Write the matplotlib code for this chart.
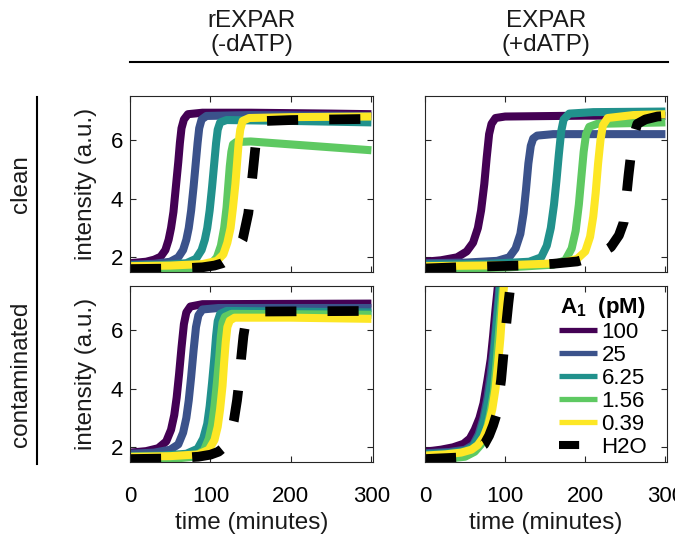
import matplotlib
matplotlib.use("Agg")
import matplotlib.pyplot as plt
from matplotlib.lines import Line2D

plt.rcParams['font.family'] = ['Liberation Sans', 'DejaVu Sans']
plt.rcParams['mathtext.fontset'] = 'custom'
plt.rcParams['mathtext.rm'] = 'Liberation Sans'
plt.rcParams['mathtext.bf'] = 'Liberation Sans:bold'

# legend labels / colours (viridis, 5 levels)
conc_labels = ['100', '25', '6.25', '1.56', '0.39', 'H2O']
conc_colors = ['#440154', '#3b528b', '#21918c', '#5ec962', '#fde725', 'black']

col_titles = ['rEXPAR\n(-dATP)', 'EXPAR\n(+dATP)']
row_titles = ['clean', 'contaminated']
xticks = [0, 100, 200, 300]
yticks = [2, 4, 6]

# ---- rEXPAR (-dATP), clean : (time, intensity)
rc_100 = [(0,1.8),(20,1.85),(30,1.92),(38,2.02),(44,2.25),(48,2.6),(51,3.0),(54,3.55),(57,4.4),(60,5.25),(62,5.9),(64,6.4),(67,6.7),(72,6.88),(90,6.93),(150,6.93),(250,6.9),(300,6.88)]
rc_25 = [(0,1.75),(30,1.78),(50,1.85),(60,2.0),(66,2.25),(70,2.6),(73,3.0),(76,3.6),(79,4.4),(82,5.3),(84,5.9),(86,6.4),(89,6.7),(95,6.82),(150,6.85),(300,6.82)]
rc_625 = [(0,1.72),(40,1.74),(70,1.8),(82,1.95),(89,2.25),(93,2.6),(96,3.0),(99,3.6),(102,4.4),(105,5.3),(107,5.9),(109,6.35),(112,6.6),(120,6.68),(200,6.65),(300,6.6)]
rc_156 = [(0,1.55),(50,1.57),(85,1.62),(100,1.75),(108,2.0),(113,2.4),(117,3.0),(120,3.7),(122,4.4),(124,5.1),(126,5.6),(128,5.85),(132,5.93),(150,5.95),(200,5.85),(250,5.75),(300,5.65)]
rc_039 = [(0,1.7),(50,1.72),(90,1.77),(108,1.88),(116,2.1),(121,2.5),(125,3.0),(128,3.7),(131,4.5),(133,5.2),(135,5.9),(137,6.35),(140,6.65),(148,6.75),(200,6.78),(300,6.8)]
rc_h2o = [(0,1.6),(60,1.62),(90,1.66),(105,1.72),(115,1.8),(125,1.98),(133,2.25),(140,2.6),(147,3.5),(150,4.2),(153,5.0),(156,5.8),(159,6.3),(163,6.55),(170,6.65),(200,6.68),(300,6.72)]

# ---- EXPAR (+dATP), clean
ec_100 = [(0,1.85),(20,1.9),(40,2.0),(52,2.2),(60,2.5),(66,3.0),(70,3.6),(74,4.5),(77,5.4),(80,6.2),(83,6.55),(88,6.75),(100,6.8),(200,6.83),(300,6.82)]
ec_25 = [(0,1.8),(50,1.82),(90,1.88),(105,2.0),(113,2.3),(119,2.8),(123,3.5),(126,4.3),(129,5.2),(132,5.8),(135,6.05),(140,6.15),(160,6.2),(300,6.2)]
ec_625 = [(0,1.75),(80,1.78),(130,1.85),(145,2.0),(152,2.4),(157,3.0),(161,3.8),(164,4.6),(167,5.5),(170,6.3),(173,6.7),(180,6.9),(210,6.95),(300,6.97)]
ec_156 = [(0,1.6),(100,1.65),(160,1.75),(175,1.9),(183,2.3),(188,2.9),(192,3.8),(195,4.7),(198,5.6),(201,6.2),(205,6.45),(215,6.55),(300,6.6)]
ec_039 = [(0,1.7),(100,1.73),(170,1.8),(190,1.95),(200,2.2),(206,2.7),(210,3.4),(213,4.2),(216,5.2),(219,6.0),(222,6.5),(228,6.75),(260,6.85),(300,6.88)]
ec_h2o = [(0,1.62),(60,1.68),(120,1.72),(160,1.78),(190,1.86),(205,1.98),(220,2.15),(232,2.35),(242,2.75),(248,3.2),(251,4.0),(254,4.8),(257,5.5),(260,6.1),(265,6.55),(275,6.7),(290,6.8),(300,6.82)]

# ---- rEXPAR (-dATP), contaminated
rx_100 = [(0,1.82),(20,1.87),(35,1.97),(45,2.2),(51,2.6),(55,3.1),(58,3.7),(61,4.5),(64,5.4),(67,6.2),(70,6.6),(75,6.8),(90,6.88),(300,6.9)]
rx_25 = [(0,1.78),(30,1.82),(50,1.92),(60,2.1),(66,2.5),(70,3.0),(73,3.6),(76,4.4),(79,5.3),(82,6.1),(85,6.5),(90,6.7),(110,6.75),(300,6.75)]
rx_625 = [(0,1.7),(40,1.72),(70,1.78),(84,1.95),(91,2.3),(96,2.8),(99,3.4),(102,4.2),(105,5.1),(107,5.8),(109,6.3),(112,6.55),(120,6.65),(300,6.6)]
rx_156 = [(0,1.58),(50,1.6),(80,1.68),(92,1.9),(98,2.3),(102,2.8),(105,3.4),(108,4.2),(111,5.1),(113,5.8),(115,6.25),(118,6.45),(126,6.55),(300,6.52)]
rx_039 = [(0,1.68),(50,1.7),(85,1.76),(98,1.92),(105,2.25),(109,2.7),(112,3.3),(115,4.1),(117,4.9),(119,5.6),(121,6.1),(124,6.32),(130,6.42),(200,6.42),(300,6.38)]
rx_h2o = [(0,1.6),(50,1.62),(85,1.68),(100,1.75),(110,1.85),(118,2.03),(124,2.35),(129,2.9),(133,3.6),(136,4.3),(138,5.0),(141,5.8),(144,6.3),(150,6.55),(165,6.63),(300,6.65)]

# ---- EXPAR (+dATP), contaminated (all shoot past the top)
ex_100 = [(0,1.85),(20,1.92),(35,2.0),(48,2.12),(56,2.3),(62,2.6),(68,3.0),(73,3.5),(78,4.3),(82,5.0),(85,5.8),(88,6.7),(91,7.5),(93,8.0)]
ex_25 = [(0,1.8),(30,1.84),(50,1.92),(60,2.08),(67,2.45),(73,3.0),(78,3.7),(82,4.5),(86,5.4),(89,6.3),(92,7.2),(94,8.0)]
ex_625 = [(0,1.76),(30,1.8),(50,1.88),(60,2.02),(68,2.4),(74,2.95),(79,3.6),(84,4.5),(87,5.4),(90,6.3),(93,7.2),(95,8.0)]
ex_156 = [(0,1.6),(30,1.62),(50,1.68),(62,1.85),(70,2.1),(76,2.5),(81,3.1),(86,3.9),(89,4.8),(92,5.8),(95,6.8),(98,7.7),(100,8.2)]
ex_039 = [(0,1.72),(25,1.76),(45,1.82),(58,1.92),(66,2.08),(73,2.35),(79,2.75),(84,3.3),(88,4.0),(91,4.8),(94,5.7),(96,6.5),(98,7.3),(100,8.0)]
ex_h2o = [(0,1.6),(40,1.65),(55,1.8),(65,1.95),(74,2.1),(80,2.4),(85,2.75),(89,3.1),(92,3.7),(95,4.3),(98,5.2),(101,6.1),(104,6.9),(107,7.6),(110,8.2)]

panels = [[[rc_100, rc_25, rc_625, rc_156, rc_039, rc_h2o],
           [ec_100, ec_25, ec_625, ec_156, ec_039, ec_h2o]],
          [[rx_100, rx_25, rx_625, rx_156, rx_039, rx_h2o],
           [ex_100, ex_25, ex_625, ex_156, ex_039, ex_h2o]]]

W, H = 675, 539
fig = plt.figure(figsize=(W / 100, H / 100), dpi=100)

lefts = [130, 425]
widths = [243, 242]
tops = [96, 286]
ax_h = 176
spine_c = '#262626'

axes = [[None, None], [None, None]]
for r in range(2):
    for c in range(2):
        ax = fig.add_axes([lefts[c] / W, 1 - (tops[r] + ax_h) / H, widths[c] / W, ax_h / H])
        axes[r][c] = ax
        for k, pts in enumerate(panels[r][c]):
            t = [p[0] for p in pts]
            v = [p[1] for p in pts]
            if conc_labels[k] == 'H2O':
                ln, = ax.plot(t, v, color='black', lw=7.0, solid_joinstyle='round')
                ln.set_dashes([3.2, 3.2])
                ln.set_dash_capstyle('butt')
            else:
                ax.plot(t, v, color=conc_colors[k], lw=5.8, solid_joinstyle='round',
                        solid_capstyle='butt')
        ax.set_xlim(0, 302)
        ax.set_ylim(1.5, 7.5)
        ax.set_xticks(xticks)
        ax.set_yticks(yticks)
        ax.tick_params(direction='in', top=True, right=True, length=4, width=0.8,
                       colors=spine_c, labelcolor='black', labelsize=16)
        ax.tick_params(axis='x', pad=17)
        ax.tick_params(axis='y', pad=5)
        for s in ax.spines.values():
            s.set_color(spine_c)
            s.set_linewidth(0.8)
        if r == 0:
            ax.set_xticklabels([])
        else:
            ax.set_xlabel('time (minutes)', fontsize=17.5, labelpad=4, color='#1a1a1a')
        if c == 1:
            ax.set_yticklabels([])
        else:
            ax.set_ylabel('intensity (a.u.)', fontsize=17.5, labelpad=10, color='#1a1a1a')

# legend in the bottom right panel
handles = []
for k, lab in enumerate(conc_labels):
    if lab == 'H2O':
        h = Line2D([], [], color='black', lw=5.8, dashes=[2.5, 3.0], dash_capstyle='butt')
    else:
        h = Line2D([], [], color=conc_colors[k], lw=3.8, solid_capstyle='butt')
    handles.append(h)
leg = axes[1][1].legend(handles, conc_labels, loc='upper left', bbox_to_anchor=(0.555, 0.95),
                        frameon=False, fontsize=16, handlelength=1.7, handletextpad=0.2,
                        labelspacing=0.09, borderpad=0, borderaxespad=0,
                        title=r'$\mathbf{A_1}$  (pM)',
                        title_fontproperties={'weight': 'bold', 'size': 16})

# column headers and the line under them
for c in range(2):
    cx = (lefts[c] + widths[c] / 2) / W
    fig.text(cx, 1 - 10 / H, col_titles[c], ha='center', va='top', fontsize=17.5,
             linespacing=1.12, color='#1a1a1a')
fig.add_artist(Line2D([130 / W, 668 / W], [1 - 62 / H, 1 - 62 / H], color='black', lw=1.5))

# row headers and the line beside them
for r in range(2):
    cy = 1 - (tops[r] + ax_h / 2) / H
    fig.text(21 / W, cy, row_titles[r], rotation=90, ha='center', va='center',
             fontsize=17.5, color='#1a1a1a')
fig.add_artist(Line2D([37 / W, 37 / W], [1 - 97 / H, 1 - 464 / H], color='black', lw=1.5))

fig.savefig('out.png', dpi=100)
